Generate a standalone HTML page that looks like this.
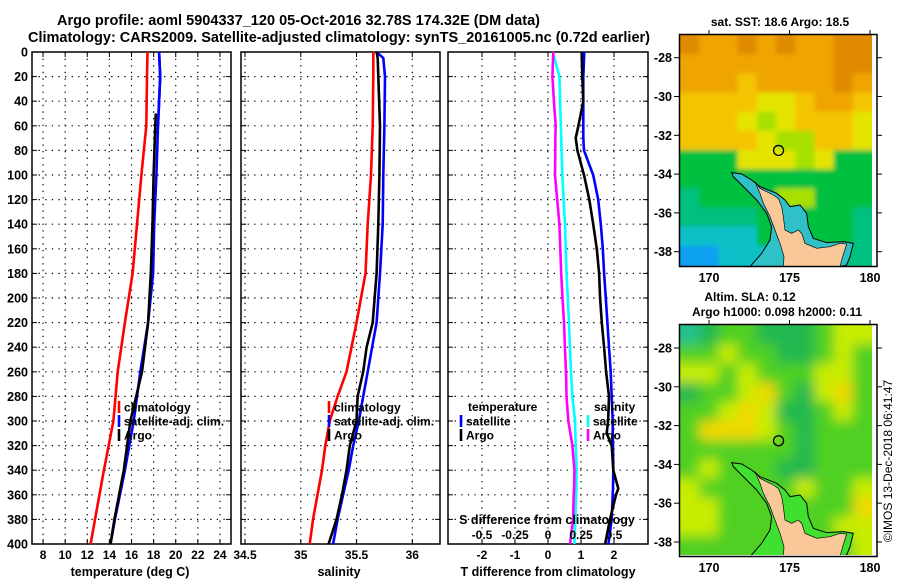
<!DOCTYPE html>
<html><head><meta charset="utf-8">
<style>
html,body{margin:0;padding:0;background:#fff;}
svg{display:block;font-family:"Liberation Sans",sans-serif;font-weight:bold;}
</style></head>
<body>
<svg id="fig" width="900" height="580" viewBox="0 0 900 580" xmlns="http://www.w3.org/2000/svg">
<defs>
  <clipPath id="clipTop"><rect x="680" y="35" width="192" height="231"/></clipPath>
  <clipPath id="clipBot"><rect x="680" y="325" width="192" height="230"/></clipPath>
  <filter id="soft" filterUnits="userSpaceOnUse" x="660" y="300" width="240" height="280"><feGaussianBlur stdDeviation="6"/></filter>
  <filter id="softer" filterUnits="userSpaceOnUse" x="660" y="10" width="240" height="280"><feGaussianBlur stdDeviation="2.5"/></filter>
</defs>
<text x="57" y="25" font-size="14.5" textLength="483">Argo profile: aoml 5904337_120 05-Oct-2016 32.78S 174.32E (DM data)</text>
<text x="28" y="42" font-size="14.5" textLength="622">Climatology: CARS2009. Satellite-adjusted climatology: synTS_20161005.nc (0.72d earlier)</text>
<g id="plots"></g>
<g id="maps"></g>
</svg>
<script>
// ---------- DATA ----------
const tempDepths = [0,20,60,100,140,180,220,260,300,340,380,400];
const tempClim = [17.45,17.4,17.34,16.9,16.5,16.1,15.4,14.75,14.36,13.5,12.7,12.3];
const tempSat = [18.5,18.6,18.4,18.25,18.05,17.95,17.5,16.8,16.2,15.4,14.5,14.1];
const argoTempDepths = [50,60,100,140,180,220,260,300,340,380,400];
const tempArgo = [18.2,18.15,18.0,17.9,17.75,17.5,16.95,15.9,15.3,14.45,14.1];

const salDepths = [0,5,20,60,100,140,180,220,240,260,280,300,320,340,360,380,400];
const salClim = [35.65,35.65,35.65,35.645,35.63,35.6,35.58,35.5,35.455,35.41,35.33,35.26,35.22,35.19,35.15,35.11,35.08];
const salSat = [35.68,35.74,35.755,35.75,35.74,35.735,35.71,35.68,35.64,35.6,35.56,35.52,35.47,35.43,35.38,35.33,35.29];
const salArgo = [35.68,35.69,35.695,35.71,35.705,35.695,35.68,35.645,35.59,35.56,35.51,35.5,35.44,35.41,35.37,35.32,35.25];

const diffDepths = [0,20,40,60,70,80,100,120,140,160,180,200,220,240,260,280,300,310,320,340,355,360,380,400];
const tDiffSat = [1.1,1.07,1.07,1.07,1.07,1.09,1.37,1.52,1.6,1.66,1.7,1.75,1.8,1.85,1.9,1.93,1.96,1.96,1.97,1.98,1.97,1.96,1.93,1.83];
const tDiffArgo = [1.02,1.04,1.07,0.92,0.84,0.89,1.09,1.25,1.37,1.48,1.55,1.58,1.63,1.7,1.76,1.85,1.82,1.78,1.93,1.98,2.13,2.06,1.88,1.73];
const sDiffSat = [0.036,0.086,0.092,0.098,0.1,0.103,0.108,0.118,0.129,0.135,0.14,0.15,0.159,0.166,0.174,0.184,0.205,0.207,0.21,0.217,0.215,0.213,0.207,0.2];
const sDiffArgo = [0.04,0.033,0.045,0.058,0.055,0.055,0.053,0.07,0.086,0.093,0.1,0.11,0.121,0.128,0.136,0.14,0.154,0.17,0.185,0.2,0.198,0.195,0.19,0.167];

const depthTicks = [0,20,40,60,80,100,120,140,160,180,200,220,240,260,280,300,320,340,360,380,400];
const tempTicks = [8,10,12,14,16,18,20,22,24];
const salTicks = [34.5,35,35.5,36];
const salTickLabels = ["34.5","35","35.5","36"];
const tDiffTicks = [-2,-1,0,1,2];
const sDiffTicks = [-0.5,-0.25,0,0.25,0.5];
const sDiffTickLabels = ["-0.5","-0.25","0","0.25","0.5"];
const lonTicks = [170,175,180];
const latTicks = [-28,-30,-32,-34,-36,-38];
const argoLon = 174.32, argoLat = -32.78;

// ---------- HELPERS ----------
const NS = "http://www.w3.org/2000/svg";
function mk(tag, attrs, parent){ const e=document.createElementNS(NS,tag); for(const k in attrs) e.setAttribute(k,attrs[k]); if(parent) parent.appendChild(e); return e; }
const TOP=52, BOT=544;
function yD(d){ return TOP + d*(BOT-TOP)/400; }
function lin(d0,d1,r0,r1){ return v => r0 + (v-d0)*(r1-r0)/(d1-d0); }

const plots = document.getElementById('plots');
const panels = [
  {name:'temperature-panel', x0:32, x1:231, xs:lin(7,25,32,231)},
  {name:'salinity-panel', x0:241, x1:440, xs:lin(34.5,36,245,412.3)},
  {name:'difference-panel', x0:448, x1:648, xs:lin(0,1,548,581)}
];
const sDiffScale = lin(0,0.25,548,581);

function drawSeries(g, name, depths, vals, xs, color){
  const pts = depths.map((d,i)=> xs(vals[i]).toFixed(1)+','+yD(d).toFixed(1)).join(' ');
  const pl = mk('polyline',{points:pts, fill:'none', stroke:color, 'stroke-width':2.6, 'stroke-linejoin':'miter'}, g);
  
  
}
function txt(g, name, x, y, s, size, anchor, extra){
  const t = mk('text',{x:x,y:y,'font-size':size||12,'text-anchor':anchor||'start'}, g);
  if(extra) for(const k in extra) t.setAttribute(k, extra[k]);
  t.textContent = s;
  
  
  return t;
}

panels.forEach((p,pi)=>{
  const g = mk('g',{},plots);
  
  
  depthTicks.forEach(d=>{
    if(d>0 && d<400){ const l=mk('line',{x1:p.x0,x2:p.x1,y1:yD(d),y2:yD(d),stroke:'#000','stroke-width':1.2,'stroke-dasharray':'1.3 5.3'},g);
        }
    mk('line',{x1:p.x0,x2:p.x0+5,y1:yD(d),y2:yD(d),stroke:'#000','stroke-width':1},g);
    mk('line',{x1:p.x1-5,x2:p.x1,y1:yD(d),y2:yD(d),stroke:'#000','stroke-width':1},g);
  });
  let ticks = pi===0?tempTicks:(pi===1?salTicks:tDiffTicks);
  ticks.forEach((t,i)=>{
    const x = p.xs(t);
    const l=mk('line',{x1:x,x2:x,y1:TOP,y2:BOT,stroke:'#000','stroke-width':1.2,'stroke-dasharray':'1.3 5.3'},g);
     
    mk('line',{x1:x,x2:x,y1:BOT-5,y2:BOT,stroke:'#000','stroke-width':1},g);
    mk('line',{x1:x,x2:x,y1:TOP,y2:TOP+5,stroke:'#000','stroke-width':1},g);
    const lab = pi===1?salTickLabels[i]:String(t);
    txt(g,'x-tick-label',x,559,lab,12,'middle');
  });
  const fr = mk('rect',{x:p.x0,y:TOP,width:p.x1-p.x0,height:BOT-TOP,fill:'none',stroke:'#000','stroke-width':1.5},g);
   
  if(pi===0){
    depthTicks.forEach(d=> txt(g,'depth-tick-label',28,yD(d)+4.5,String(d),12.5,'end'));
    drawSeries(g,'temp-climatology-line',tempDepths,tempClim,p.xs,'#f00');
    drawSeries(g,'temp-satellite-line',tempDepths,tempSat,p.xs,'#00f');
    drawSeries(g,'temp-argo-line',argoTempDepths,tempArgo,p.xs,'#000');
    drawSeries(g,'temp-satellite-line-top',tempDepths.slice(0,3),tempSat.slice(0,3),p.xs,'#00f');
    txt(g,'x-axis-title',130,576,'temperature (deg C)',12.5,'middle');
  } else if(pi===1){
    drawSeries(g,'sal-climatology-line',salDepths,salClim,p.xs,'#f00');
    drawSeries(g,'sal-satellite-line',salDepths,salSat,p.xs,'#00f');
    drawSeries(g,'sal-argo-line',salDepths,salArgo,p.xs,'#000');
    txt(g,'x-axis-title',339,576,'salinity',12.5,'middle');
  } else {
    drawSeries(g,'s-diff-satellite-line',diffDepths,sDiffSat,sDiffScale,'#0ff');
    drawSeries(g,'s-diff-argo-line',diffDepths,sDiffArgo,sDiffScale,'#f0f');
    drawSeries(g,'t-diff-satellite-line',diffDepths,tDiffSat,p.xs,'#00f');
    drawSeries(g,'t-diff-argo-line',diffDepths,tDiffArgo,p.xs,'#000');
    txt(g,'s-axis-title',547,524,'S difference from climatology',12.5,'middle');
    sDiffTicks.forEach((s,i)=> txt(g,'s-tick-label',sDiffScale(s),539,sDiffTickLabels[i],12,'middle'));
    txt(g,'x-axis-title',548,576,'T difference from climatology',12.5,'middle');
  }
});

function legEntry(name, tx, ty, color, label){
  const g = mk('g',{},plots);
  
  
  mk('line',{x1:tx,x2:tx,y1:ty-6,y2:ty+6,stroke:color,'stroke-width':2.6},g);
  txt(g,'legend-label',tx+5,ty+4.5,label,12);
}
legEntry('legend-climatology-temp',119,407,'#f00','climatology');
legEntry('legend-satellite-temp',119,421,'#00f','satellite-adj. clim.');
legEntry('legend-argo-temp',119,435,'#000','Argo');
legEntry('legend-climatology-sal',329,407,'#f00','climatology');
legEntry('legend-satellite-sal',329,421,'#00f','satellite-adj. clim.');
legEntry('legend-argo-sal',329,435,'#000','Argo');
txt(plots,'legend-temperature-header',468,411,'temperature',12);
legEntry('legend-t-satellite',461,421,'#00f','satellite');
legEntry('legend-t-argo',461,435,'#000','Argo');
txt(plots,'legend-salinity-header',594,411,'salinity',12);
legEntry('legend-s-satellite',588,421,'#0ff','satellite');
legEntry('legend-s-argo',588,435,'#f0f','Argo');

// ---------- MAPS ----------
const maps = document.getElementById('maps');
const sstPalette = {O:'#e08a00',o:'#f0a400',Y:'#f4c400',y:'#e4e400',l:'#a8e000',G:'#00c040',g:'#00c080',c:'#10c0c8',b:'#10a0f0'};
const sstGrid = [
 "OooOoOooOO",
 "ooooooooOO",
 "oooYooooOo",
 "YYYYyyYooY",
 "YYYylyYYYy",
 "YYYYyllYYy",
 "GGGyyylyGG",
 "GGGGGGGGGG",
 "gGGGGllGGG",
 "ggggGGGGGg",
 "ccccGGGGGg",
 "bbcccGGGgg"];
const slaPalette = {T:'#20c090',D:'#20b850',G:'#50d020',y:'#c8ec00',Y:'#f0d800'};
const slaGrid = [
 "TDGGDDDGyy",
 "GGyGGDDGyG",
 "yyGyGGGyyG",
 "DGGyYGDyYG",
 "GGyYyDDGyG",
 "GYYYyGDGGG",
 "GGGGGGDGGG",
 "GyGGGDDGGG",
 "yGGGGGyGGy",
 "yyGGGGGGGY",
 "yyGGGGGGyy",
 "GGGGGGGGGy"];
const landPts = "285,545 300,565 320,575 340,585 355,595 365,620 370,650 375,690 395,700 415,690 425,700 435,730 470,745 510,740 540,730 560,732 548,770 540,800 370,800 372,770 360,730 345,690 330,650 310,610 300,580";
const shelfPts = "215,518 245,522 275,540 300,560 350,580 375,600 390,620 420,615 440,640 445,680 460,715 500,728 550,725 580,730 570,770 560,795 540,800 270,800 305,760 330,720 335,680 320,640 290,600 260,570 235,545 220,530";

function drawMap(name, top, bottom, grid, pal, blurId, shelfColor, latTop){
  const g = mk('g',{},maps);
  
  
  const left=680, right=872;
  const clip = mk('g',{'clip-path':top<100?'url(#clipTop)':'url(#clipBot)'},g);
  const img = mk('g',{filter:'url(#'+blurId+')'},clip);
  const cw=(right-left)/10, ch=(bottom-top)/12;
  grid.forEach((row,r)=>{ for(let c=0;c<row.length;c++){
    mk('rect',{x:left+c*cw-12*(c===0),y:top+r*ch-12*(r===0),width:cw+1+12*(c===0||c===9),height:ch+1+12*(r===0||r===11),fill:pal[row[c]]},img);
  }});
  const geo = mk('g',{transform:'translate(660,'+(top-35)+') scale(0.33333)'},clip);
  const sh = mk('polygon',{points:shelfPts,fill:shelfColor,stroke:'#000','stroke-width':3},geo);
   
  const ld = mk('polygon',{points:landPts,fill:'#f8c898',stroke:'#000','stroke-width':2},geo);
   
  const fr = mk('rect',{x:679.5,y:top-0.5,width:197.5,height:bottom-top+2,fill:'none',stroke:'#000','stroke-width':1.5},g);
   
  const lonX = lin(170,180,709,870);
  const latY = lin(-28,-38,latTop,latTop+194);
  lonTicks.forEach(l=>{ const x=lonX(l);
    mk('line',{x1:x,x2:x,y1:top-5,y2:top,stroke:'#000','stroke-width':1},g);
    txt(g,'lon-tick-label',x,bottom+17,String(l),12.5,'middle'); });
  latTicks.forEach(l=>{ const y=latY(l);
    mk('line',{x1:877,x2:882,y1:y,y2:y,stroke:'#000','stroke-width':1},g);
    mk('line',{x1:674,x2:679,y1:y,y2:y,stroke:'#000','stroke-width':1},g);
    txt(g,'lat-tick-label',672,y+4.5,String(l),12.5,'end'); });
  const circ = mk('circle',{cx:lonX(argoLon),cy:latY(argoLat),r:5,fill:'none',stroke:'#000','stroke-width':1.3},g);
   
  return g;
}
drawMap('sst-map',35,265,sstGrid,sstPalette,'softer','#30c0c8',57.7);
drawMap('sla-map',325,555,slaGrid,slaPalette,'soft','#40e030',348);
txt(maps,'sst-map-title',780,26,'sat. SST: 18.6 Argo: 18.5',12,'middle');
txt(maps,'sla-map-title-1',750,301,'Altim. SLA: 0.12',12,'middle');
txt(maps,'sla-map-title-2',777,316,'Argo h1000: 0.098 h2000: 0.11',12,'middle');
txt(maps,'imos-timestamp',0,0,'©IMOS 13-Dec-2018 06:41:47',12,'middle',{transform:'translate(892,461) rotate(-90)','font-weight':'normal'});
</script>
</body></html>
